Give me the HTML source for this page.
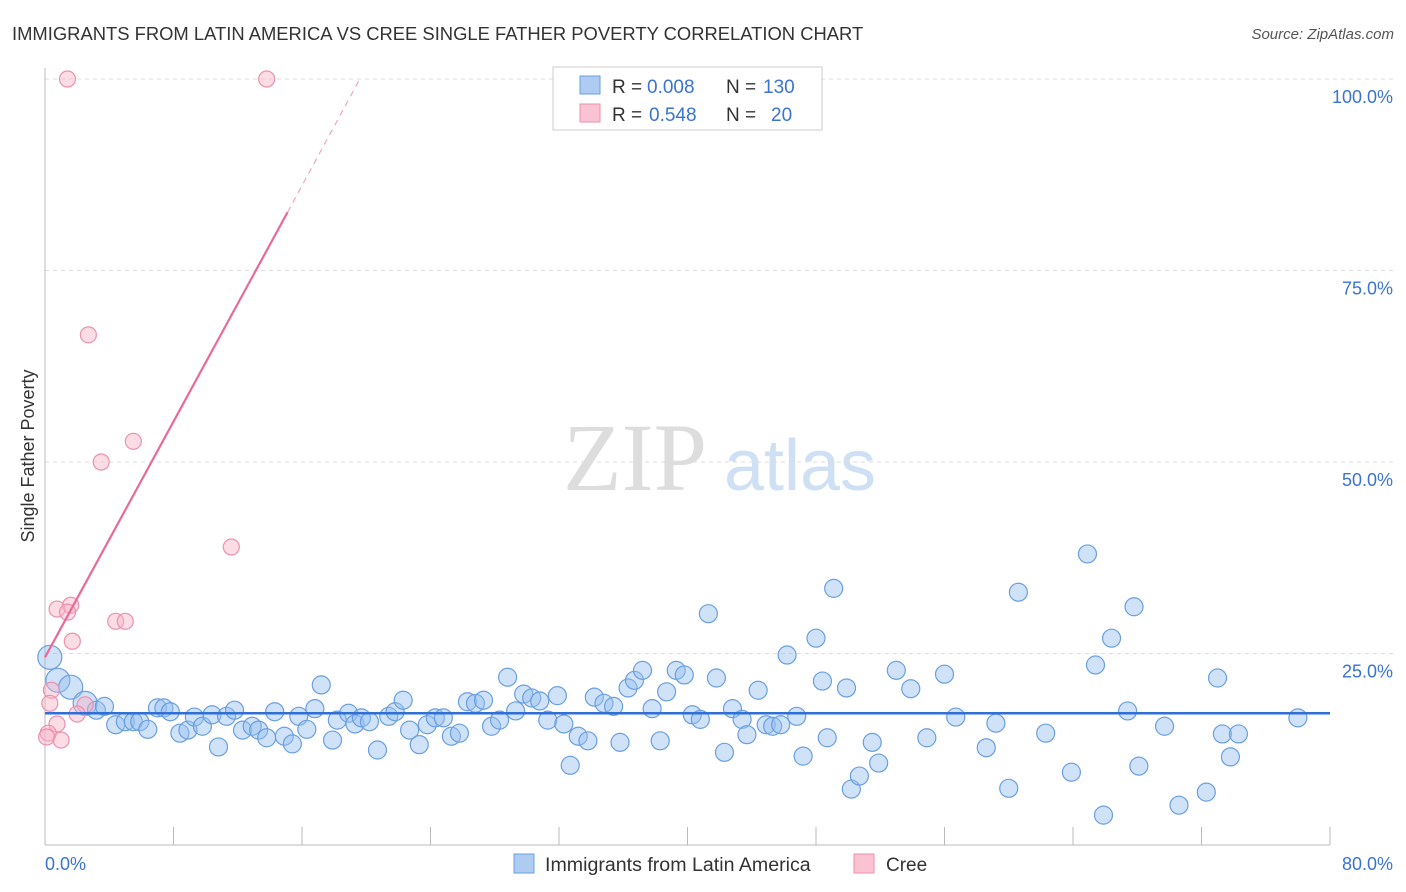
<!DOCTYPE html>
<html><head><meta charset="utf-8"><style>
body{margin:0;background:#fff;font-family:"Liberation Sans",sans-serif}
svg{display:block}
</style></head><body>
<svg id="c" width="1406" height="892" xmlns="http://www.w3.org/2000/svg">
<text x="12" y="40" font-size="18.4" fill="#333">IMMIGRANTS FROM LATIN AMERICA VS CREE SINGLE FATHER POVERTY CORRELATION CHART</text>
<text x="1394" y="39" font-size="15" fill="#555" font-style="italic" text-anchor="end">Source: ZipAtlas.com</text>
<text x="34" y="456" font-size="18" fill="#333" text-anchor="middle" transform="rotate(-90 34 456)">Single Father Poverty</text>
<g><text x="635" y="490" font-size="96" fill="#ddd" font-family="Liberation Serif" text-anchor="middle">ZIP</text><text x="800" y="490" font-size="72" fill="#cfe0f5" text-anchor="middle">atlas</text></g>
<g id="grid"></g><g id="axes"></g><g id="pts"></g><g id="lines"></g>
<g>
<rect x="553" y="67" width="269" height="63" fill="#fff" stroke="#ccc"/>
<rect x="580" y="76" width="20" height="18" fill="#aecbf2" stroke="#6a9fe0"/>
<rect x="580" y="104" width="20" height="18" fill="#f9c3d3" stroke="#ec90ae"/>
<text x="612" y="93" font-size="19" fill="#333">R =</text>
<text x="647" y="93" font-size="19" fill="#3a74d0">0.008</text>
<text x="726" y="93" font-size="19" fill="#333">N =</text>
<text x="763" y="93" font-size="19" fill="#3a74d0">130</text>
<text x="612" y="121" font-size="19" fill="#333">R =</text>
<text x="649" y="121" font-size="19" fill="#3a74d0">0.548</text>
<text x="726" y="121" font-size="19" fill="#333">N =</text>
<text x="771" y="121" font-size="19" fill="#3a74d0">20</text>
</g>
<g>
<rect x="514" y="854" width="20" height="19" fill="#aecbf2" stroke="#6a9fe0"/>
<text x="545" y="871" font-size="19.6" fill="#333">Immigrants from Latin America</text>
<rect x="854" y="854" width="20" height="19" fill="#f9c3d3" stroke="#ec90ae"/>
<text x="886" y="871" font-size="19" fill="#333">Cree</text>
</g>
</svg>
<script>
const yTicks=[25,50,75,100];
const yTickLabels=["25.0%","50.0%","75.0%","100.0%"];
const xTickLabels=["0.0%","80.0%"];
const blueX=[0.3,0.8,1.6,2.5,3.2,3.7,4.4,5.0,5.5,5.9,6.4,7.0,7.4,7.8,8.4,8.9,9.3,9.8,10.4,10.8,11.3,11.8,12.3,12.9,13.3,13.8,14.3,14.9,15.4,15.8,16.3,16.8,17.2,17.9,18.2,18.9,19.3,19.7,20.2,20.7,21.4,21.8,22.3,22.7,23.3,23.8,24.3,24.8,25.3,25.8,26.3,26.8,27.3,27.8,28.3,28.8,29.3,29.8,30.3,30.8,31.3,31.9,32.3,32.7,33.2,33.8,34.2,34.8,35.4,35.8,36.3,36.7,37.2,37.8,38.3,38.7,39.3,39.8,40.3,40.8,41.3,41.8,42.3,42.8,43.4,43.7,44.4,44.9,45.3,45.8,46.2,46.8,47.2,48.0,48.4,48.7,49.1,49.9,50.2,50.7,51.5,51.9,53.0,53.9,54.9,56.0,56.7,58.6,59.2,60.0,60.6,62.3,63.9,64.9,65.4,65.9,66.4,67.4,67.8,68.1,69.7,70.6,72.3,73.0,73.3,73.8,74.3,78.0];
const blueY=[24.5,21.5,20.6,18.5,17.6,18.1,15.7,16.1,16.1,16.1,15.1,17.9,17.9,17.4,14.6,15.0,16.7,15.5,17.0,12.8,16.8,17.6,15.0,15.5,15.0,14.0,17.4,14.2,13.2,16.8,15.1,17.8,20.9,13.7,16.3,17.2,15.8,16.6,16.1,12.4,16.8,17.4,18.9,15.0,13.1,15.7,16.6,16.6,14.2,14.6,18.7,18.5,18.9,15.5,16.3,21.9,17.5,19.7,19.2,18.8,16.3,19.5,15.8,10.4,14.2,13.6,19.3,18.5,18.1,13.4,20.5,21.5,22.8,17.8,13.6,20.0,22.8,22.2,17.0,16.4,30.2,21.8,12.1,17.8,16.4,14.4,20.2,15.7,15.5,15.7,24.8,16.8,11.6,27.0,21.4,14.0,33.5,20.5,7.3,9.0,13.4,10.7,22.8,20.4,14.0,22.3,16.7,12.7,15.9,7.4,33.0,14.6,9.5,38.0,23.5,3.9,27.0,17.5,31.1,10.3,15.5,5.2,6.9,21.8,14.5,11.5,14.5,16.6];
const pinkX=[1.4,13.8,2.7,5.5,3.5,11.6,0.75,1.6,1.4,4.4,5.0,1.7,0.4,0.3,2.5,2.0,0.75,0.2,1.0,0.1];
const pinkY=[100,100,66.6,52.7,50.0,38.9,30.8,31.3,30.4,29.2,29.2,26.6,20.2,18.5,18.3,17.1,15.8,14.6,13.7,14.1];
const blueFit=[0,17.2,80,17.2];
const pinkFit=[0,24.5,15.1,82.6,19.6,100];
const X=v=>45+v/80*1285, Y=v=>845-v*7.66;
const NS="http://www.w3.org/2000/svg";
function mk(p,t,a){const e=document.createElementNS(NS,t);for(const k in a)e.setAttribute(k,a[k]);document.getElementById(p).appendChild(e);return e;}
yTicks.forEach((t,i)=>{
 const g=mk('grid','line',{x1:45,x2:1394,y1:Y(t),y2:Y(t),stroke:'#ddd','stroke-dasharray':'4,4'});
 
 
 const l=mk('axes','text',{x:1393,y:Y(t)+24,'font-size':18,fill:'#3a74d0','text-anchor':'end'});l.textContent=yTickLabels[i];
 
 
});
const ax=mk('axes','line',{x1:45,x2:1330,y1:845,y2:845,stroke:'#bbb'});


const ay=mk('axes','line',{x1:45,x2:45,y1:68,y2:845,stroke:'#bbb'});


for(let i=0;i<=10;i++){const t=mk('axes','line',{x1:X(i*8),x2:X(i*8),y1:827,y2:845,stroke:'#bbb'});
 
 }
const xl0=mk('axes','text',{x:45,y:870,'font-size':18,fill:'#3a74d0'});xl0.textContent=xTickLabels[0];


const xl1=mk('axes','text',{x:1393,y:870,'font-size':18,fill:'#3a74d0','text-anchor':'end'});xl1.textContent=xTickLabels[1];


blueX.forEach((v,i)=>{const c=mk('pts','circle',{cx:X(v),cy:Y(blueY[i]),r:i<4?12:9,fill:'rgba(150,190,240,0.45)',stroke:'#6a9fe0','stroke-width':1.2});
 
 });
pinkX.forEach((v,i)=>{const c=mk('pts','circle',{cx:X(v),cy:Y(pinkY[i]),r:8,fill:'rgba(248,180,200,0.45)',stroke:'#ec90ae','stroke-width':1.2});
 
 });
const bl=mk('lines','line',{x1:X(blueFit[0]),y1:Y(blueFit[1]),x2:X(blueFit[2]),y2:Y(blueFit[3]),stroke:'#2f6fd6','stroke-width':2.5});


const pl=mk('lines','line',{x1:X(pinkFit[0]),y1:Y(pinkFit[1]),x2:X(pinkFit[2]),y2:Y(pinkFit[3]),stroke:'#e86a98','stroke-width':2.2});


const pd=mk('lines','line',{x1:X(pinkFit[2]),y1:Y(pinkFit[3]),x2:X(pinkFit[4]),y2:Y(pinkFit[5]),stroke:'#f0a5c0','stroke-width':1.2,'stroke-dasharray':'6,5'});


</script>
</body></html>
